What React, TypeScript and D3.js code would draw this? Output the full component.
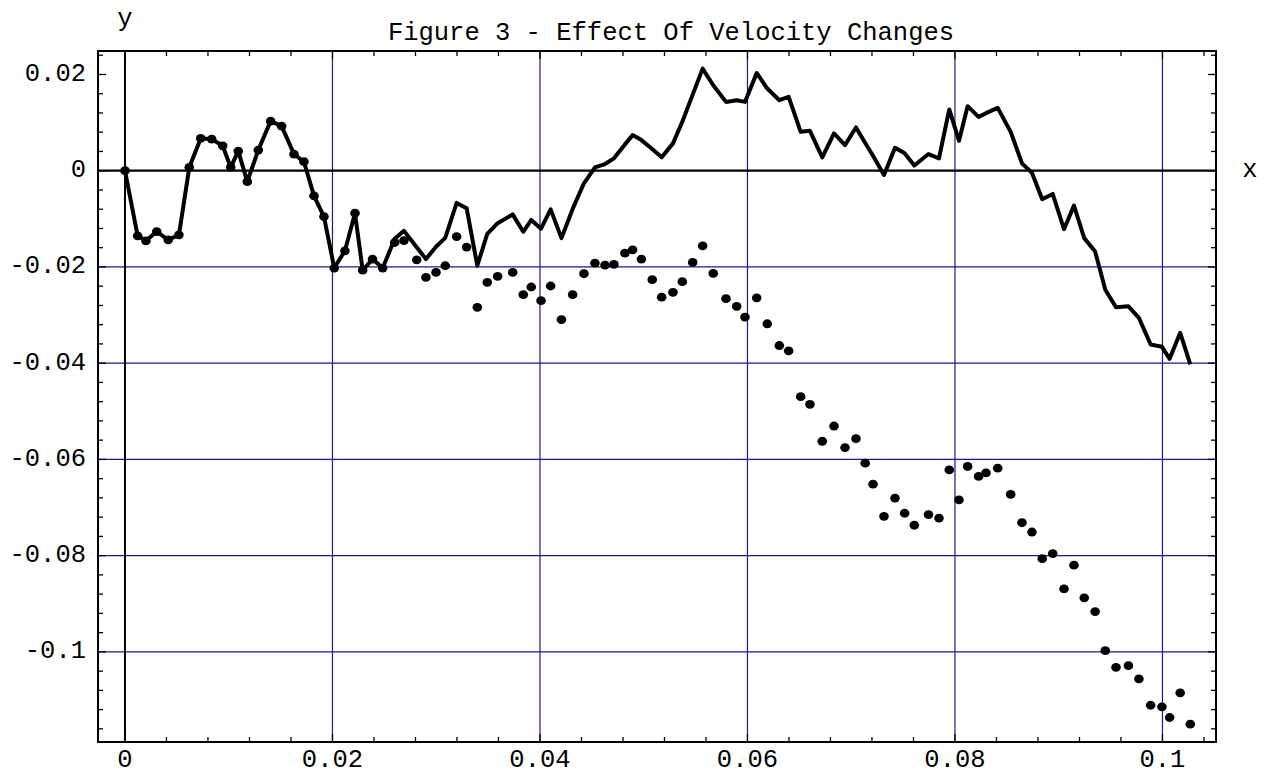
import * as d3 from "d3";

// sample positions (shared by both series)
const xValues = [
  0, 0.00122, 0.00202, 0.00306, 0.00417, 0.0052, 0.0062, 0.0073, 0.00836, 0.00942,
  0.01019, 0.01092, 0.01179, 0.01285, 0.01404, 0.0151, 0.01629, 0.01725, 0.01822, 0.01918,
  0.02017, 0.0212, 0.02217, 0.02291, 0.02386, 0.02484, 0.026, 0.02689, 0.02812, 0.02901,
  0.02998, 0.03087, 0.03197, 0.03293, 0.03396, 0.03492, 0.03592, 0.03737, 0.03839, 0.03916,
  0.0401, 0.04103, 0.04207, 0.04315, 0.04424, 0.0453, 0.04627, 0.04713, 0.04819, 0.04893,
  0.04978, 0.05082, 0.05173, 0.05282, 0.05372, 0.05472, 0.05568, 0.0567, 0.05793, 0.05896,
  0.05976, 0.06089, 0.06191, 0.06307, 0.06397, 0.06513, 0.06602, 0.06721, 0.06834, 0.0694,
  0.07046, 0.07135, 0.0721, 0.07316, 0.07422, 0.07515, 0.07608, 0.07745, 0.07846, 0.07945,
  0.08039, 0.08122, 0.08228, 0.08299, 0.08412, 0.08537, 0.08646, 0.08742, 0.08841, 0.08942,
  0.09051, 0.09147, 0.09246, 0.09351, 0.09449, 0.09552, 0.09672, 0.09773, 0.09886, 0.09995,
  0.10069, 0.10171, 0.10268,
];

// solid line
const lineValues = [
  0, -0.01353, -0.01457, -0.01264, -0.01436, -0.01333, 0.0007, 0.00671, 0.00657, 0.00518,
  0.0007, 0.00408, -0.00228, 0.00429, 0.0103, 0.00926, 0.00346, 0.00187, -0.00524, -0.00953,
  -0.02023, -0.01664, -0.00883, -0.02068, -0.01836, -0.02023, -0.01416, -0.0125, -0.0159, -0.01836,
  -0.01581, -0.01395, -0.00669, -0.00779, -0.01975, -0.01312, -0.0109, -0.00908, -0.0127, -0.01022,
  -0.01204, -0.00804, -0.01401, -0.00794, -0.00261, 0.0007, 0.00139, 0.00257, 0.00547, 0.0074,
  0.00636, 0.0045, 0.00278, 0.00568, 0.01016, 0.01581, 0.02122, 0.01776, 0.0143, 0.01465,
  0.0143, 0.02031, 0.01708, 0.01465, 0.01534, 0.00808, 0.00829, 0.00278, 0.00775, 0.00533,
  0.00899, 0.00574, 0.00311, -0.00089, 0.00477, 0.00361, 0.00108, 0.00346, 0.00257, 0.01273,
  0.00622, 0.01341, 0.01119, 0.01196, 0.01306, 0.00808, 0.00153, -0.00041, -0.00593, -0.00483,
  -0.01215, -0.00725, -0.01401, -0.01679, -0.02473, -0.02839, -0.02819, -0.03059, -0.03612, -0.0366,
  -0.03909, -0.0337, -0.04027,
];

// dots
const dotValues = [
  0, -0.01353, -0.01457, -0.01264, -0.01436, -0.01333, 0.0007, 0.00671, 0.00657, 0.00518,
  0.0007, 0.00408, -0.00228, 0.00429, 0.0103, 0.00926, 0.00346, 0.00187, -0.00524, -0.00953,
  -0.02023, -0.01664, -0.00883, -0.02068, -0.01836, -0.02023, -0.01492, -0.01451, -0.01851, -0.02218,
  -0.02114, -0.01975, -0.01368, -0.01588, -0.02839, -0.02321, -0.02197, -0.02114, -0.02576, -0.02417,
  -0.02701, -0.02396, -0.03094, -0.02576, -0.02141, -0.01919, -0.01961, -0.01948, -0.01712, -0.01644,
  -0.01836, -0.02265, -0.02628, -0.02528, -0.02307, -0.01907, -0.01561, -0.02135, -0.02659, -0.02819,
  -0.03042, -0.02642, -0.03181, -0.03633, -0.03743, -0.04696, -0.04856, -0.05623, -0.05306, -0.05753,
  -0.05567, -0.06079, -0.06514, -0.07183, -0.06804, -0.07119, -0.07368, -0.07146, -0.07219, -0.06218,
  -0.06839, -0.06147, -0.06354, -0.0628, -0.06182, -0.06727, -0.07316, -0.07509, -0.08062, -0.07959,
  -0.0869, -0.08199, -0.08877, -0.09163, -0.09975, -0.10321, -0.10286, -0.10562, -0.11109, -0.11142,
  -0.11364, -0.10852, -0.11503,
];

const xTicks = [0, 0.02, 0.04, 0.06, 0.08, 0.1];
const xTickLabels = ["0", "0.02", "0.04", "0.06", "0.08", "0.1"];
const yTicks = [0.02, 0, -0.02, -0.04, -0.06, -0.08, -0.1];
const yTickLabels = ["0.02", "0", "-0.02", "-0.04", "-0.06", "-0.08", "-0.1"];
const xGrid = [0.02, 0.04, 0.06, 0.08, 0.1];
const yGrid = [-0.02, -0.04, -0.06, -0.08, -0.1];

const title = "Figure 3 - Effect Of Velocity Changes";

export default function App() {
  const width = 1275;
  const height = 777;
  const frame = { left: 98, right: 1216, top: 51, bottom: 742 };

  const xScale = d3.scaleLinear()
    .domain([-0.0026, 0.10516])
    .range([frame.left, frame.right]);

  const yScale = d3.scaleLinear()
    .domain([-0.11873, 0.02488])
    .range([frame.bottom, frame.top]);

  const points = xValues.map((x, i) => ({ x, line: lineValues[i], dot: dotValues[i] }));

  const linePath = d3.line<{ x: number; line: number }>()
    .x(d => xScale(d.x))
    .y(d => yScale(d.line))(points) ?? "";

  const xMinor = d3.range(0, 0.1045, 0.004).map(v => +v.toFixed(4));
  const yMinor = d3.range(-0.116, 0.0245, 0.004).map(v => +v.toFixed(4));
  const isMajor = (v: number) => Math.abs(v / 0.02 - Math.round(v / 0.02)) < 1e-6;

  const font = "'Liberation Mono', 'Courier New', monospace";
  const fs = 25.5;
  const gridColor = "#1a1a8a";

  return (
    <svg
      width={width}
      height={height}
      style={{ position: "fixed", left: 0, top: 0, background: "#fff" }}
      fontFamily={font}
    >
      <rect x={0} y={0} width={width} height={height} fill="#fff" />

      {/* grid */}
      {xGrid.map(v => (
        <line key={"gx" + v} x1={xScale(v)} x2={xScale(v)} y1={frame.top} y2={frame.bottom}
          stroke={gridColor} strokeWidth={1.2} />
      ))}
      {yGrid.map(v => (
        <line key={"gy" + v} x1={frame.left} x2={frame.right} y1={yScale(v)} y2={yScale(v)}
          stroke={gridColor} strokeWidth={1.2} />
      ))}

      {/* axes through origin */}
      <line x1={xScale(0)} x2={xScale(0)} y1={frame.top} y2={frame.bottom} stroke="#000" strokeWidth={2} />
      <line x1={frame.left} x2={frame.right} y1={yScale(0)} y2={yScale(0)} stroke="#000" strokeWidth={2.2} />

      {/* frame ticks */}
      {xMinor.map(v => {
        const len = isMajor(v) ? 8 : 5;
        return (
          <g key={"tx" + v}>
            <line x1={xScale(v)} x2={xScale(v)} y1={frame.bottom} y2={frame.bottom - len} stroke="#000" strokeWidth={1.3} />
            <line x1={xScale(v)} x2={xScale(v)} y1={frame.top} y2={frame.top + len} stroke="#000" strokeWidth={1.3} />
          </g>
        );
      })}
      {yMinor.map(v => {
        const len = isMajor(v) ? 8 : 5;
        return (
          <g key={"ty" + v}>
            <line x1={frame.left} x2={frame.left + len} y1={yScale(v)} y2={yScale(v)} stroke="#000" strokeWidth={1.3} />
            <line x1={frame.right} x2={frame.right - len} y1={yScale(v)} y2={yScale(v)} stroke="#000" strokeWidth={1.3} />
          </g>
        );
      })}

      {/* frame */}
      <rect x={frame.left} y={frame.top} width={frame.right - frame.left} height={frame.bottom - frame.top}
        fill="none" stroke="#000" strokeWidth={2} />

      {/* series */}
      <path d={linePath} fill="none" stroke="#000" strokeWidth={4} strokeLinejoin="round" />
      {points.map((d, i) => (
        <ellipse key={"d" + i} cx={xScale(d.x)} cy={yScale(d.dot)} rx={4.8} ry={4.4} fill="#000" />
      ))}

      {/* tick labels */}
      {yTicks.map((t, i) => (
        <text key={"yl" + t} x={86} y={yScale(t)} textAnchor="end" dominantBaseline="central" fontSize={fs}>
          {yTickLabels[i]}
        </text>
      ))}
      {xTicks.map((t, i) => (
        <text key={"xl" + t} x={xScale(t)} y={760} textAnchor="middle" dominantBaseline="central" fontSize={fs}>
          {xTickLabels[i]}
        </text>
      ))}

      {/* labels */}
      <text x={xScale(0)} y={19} textAnchor="middle" dominantBaseline="central" fontSize={fs}>y</text>
      <text x={1250} y={yScale(0)} textAnchor="middle" dominantBaseline="central" fontSize={fs}>x</text>
      <text x={671} y={33} textAnchor="middle" dominantBaseline="central" fontSize={fs}>{title}</text>
    </svg>
  );
}
